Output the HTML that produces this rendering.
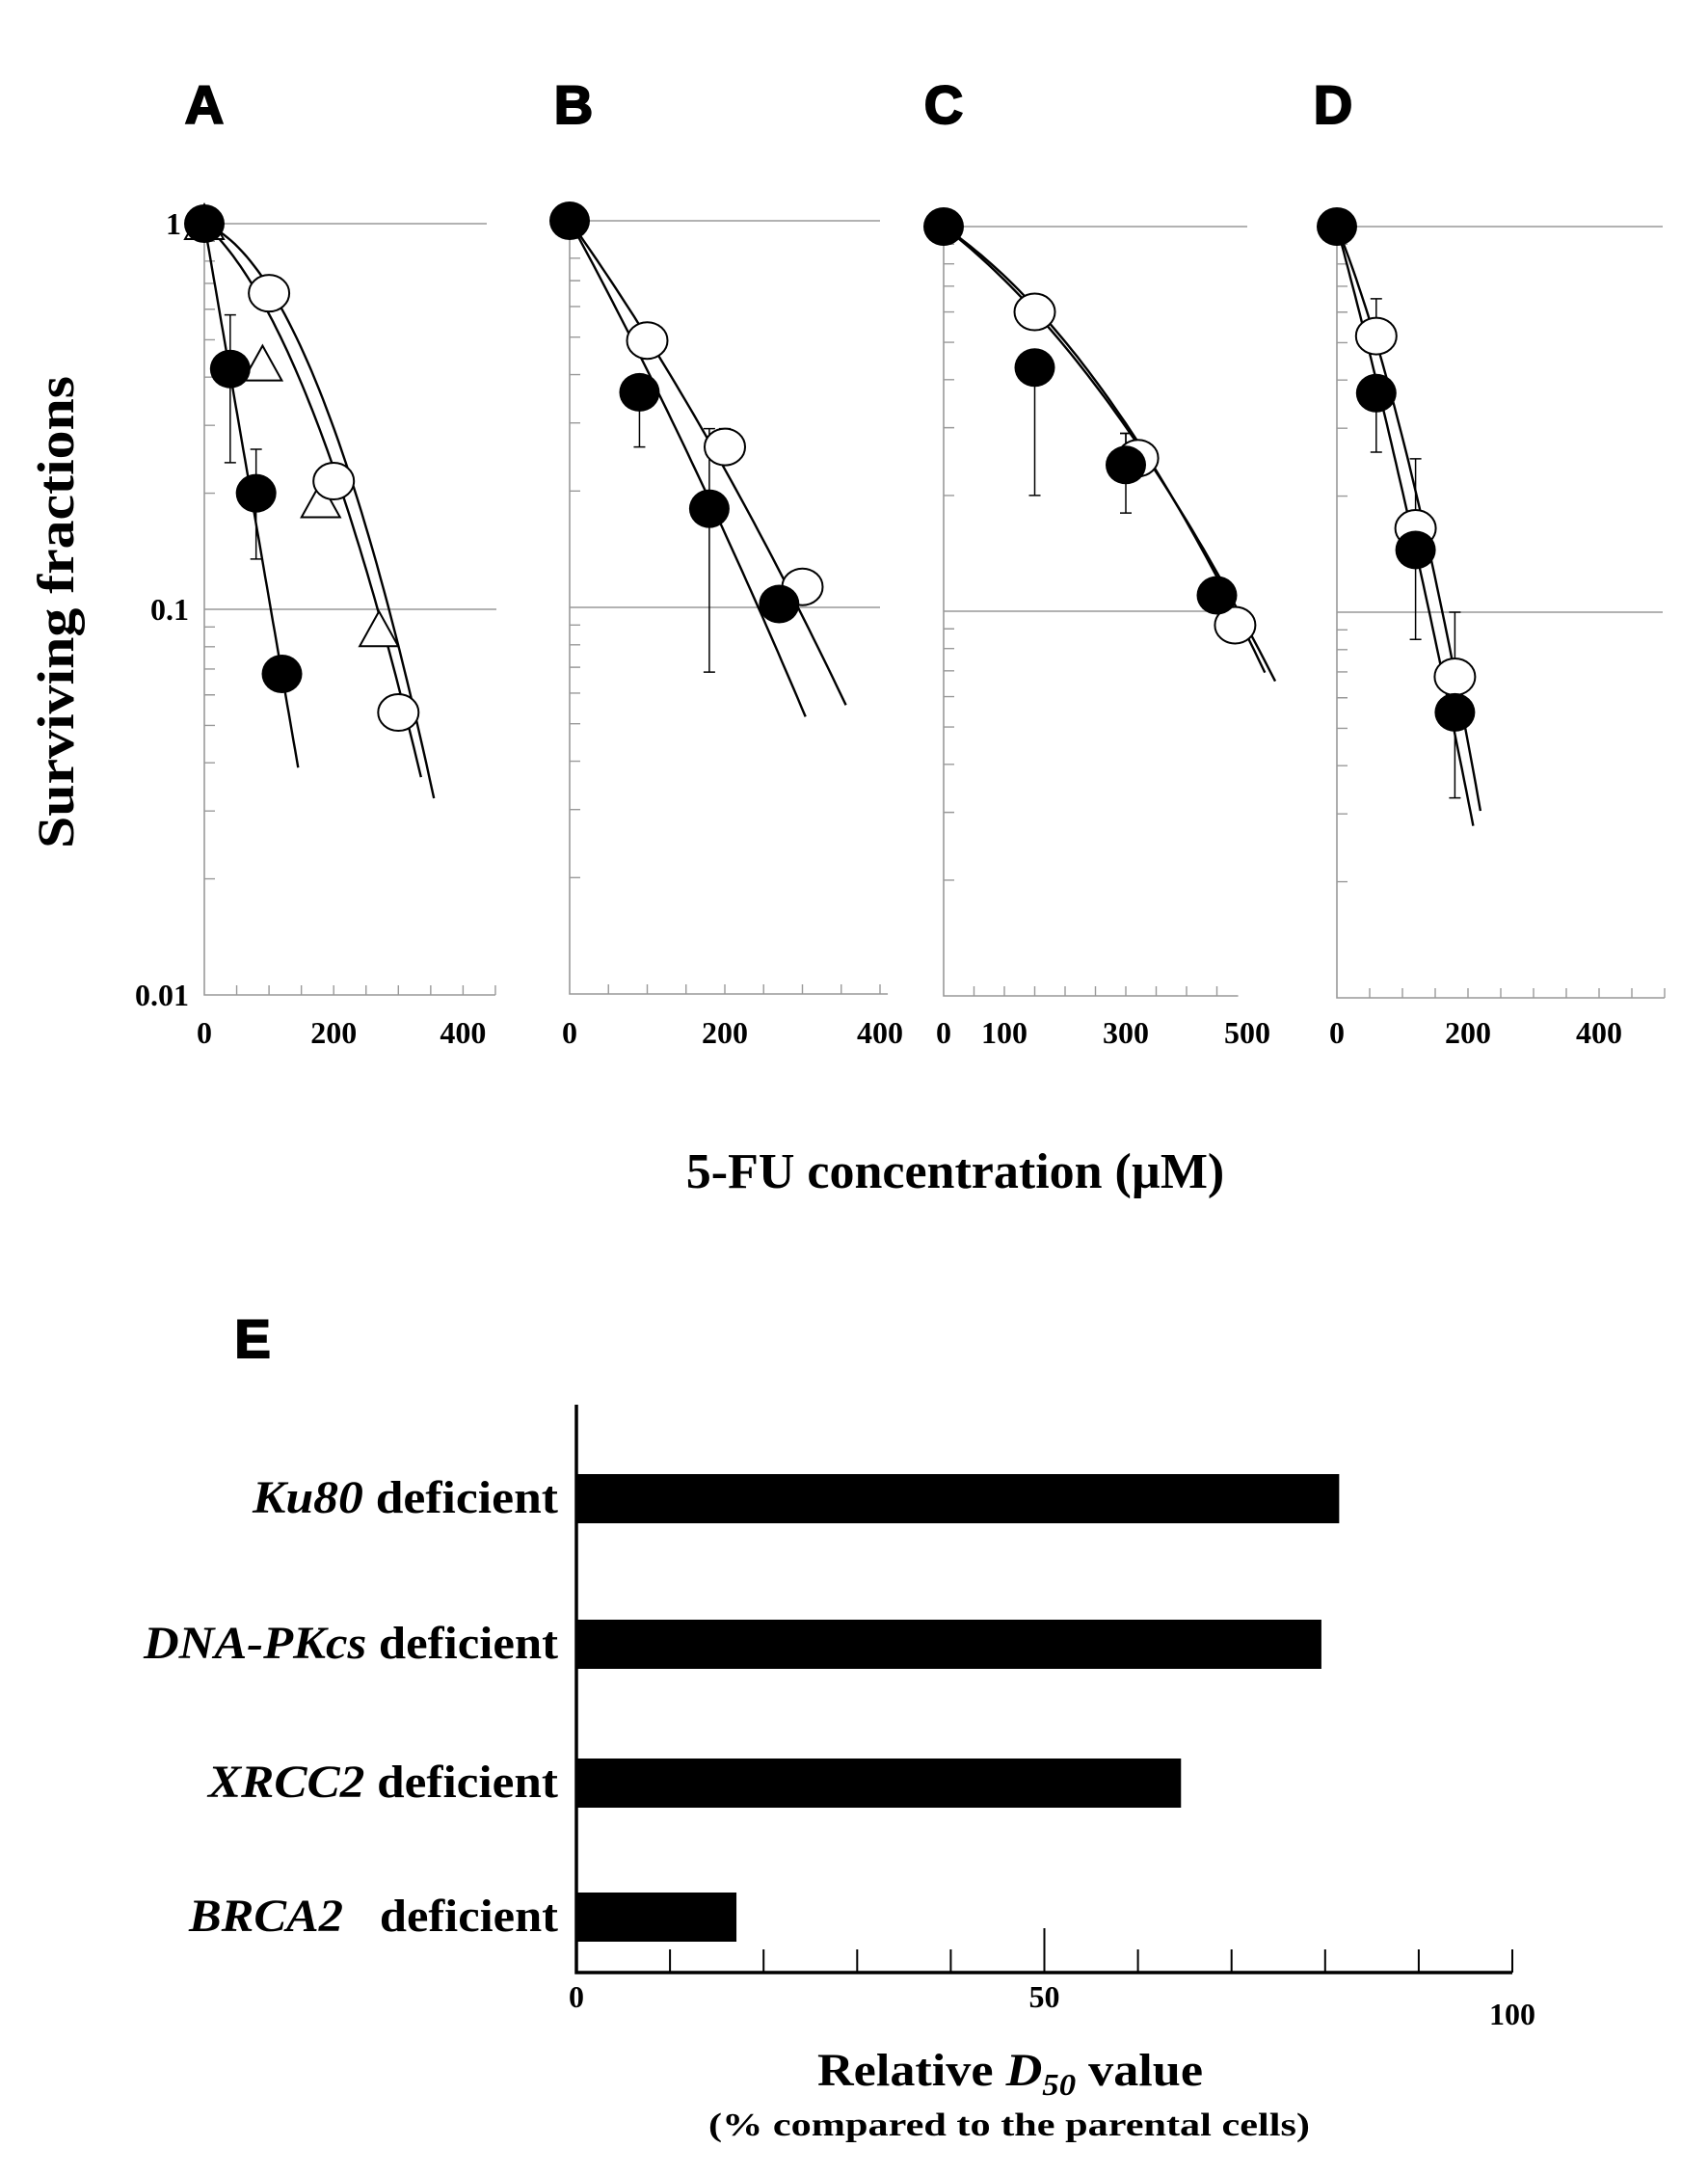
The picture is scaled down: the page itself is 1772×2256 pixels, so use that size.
<!DOCTYPE html>
<html><head><meta charset="utf-8"><style>html,body{margin:0;padding:0;background:#fff}svg{display:block}</style></head>
<body>
<svg id="fig" xmlns="http://www.w3.org/2000/svg" width="1772" height="2256" viewBox="0 0 1772 2256">
<g id="topGroup"></g>
<text transform="translate(76,635) rotate(-90)" text-anchor="middle" font-family="Liberation Serif, serif" font-weight="bold" font-size="54" textLength="490" lengthAdjust="spacingAndGlyphs">Surviving fractions</text>
<text x="991" y="1232" text-anchor="middle" font-family="Liberation Serif, serif" font-weight="bold" font-size="52">5-FU concentration (µM)</text>
<g id="barGroup"></g>
</svg>
<script>
// ---- Panel data (dose µM, surviving fraction) ----
const panelNames = ['A','B','C','D'];
const filledDoseA = [0,40,80,120], filledSurvA = [1,0.42,0.2,0.068];
const openDoseA = [100,200,300], openSurvA = [0.66,0.215,0.054];
const triDoseA = [0,90,180,270], triSurvA = [1,0.43,0.19,0.088];
const filledDoseB = [0,90,180,270], filledSurvB = [1,0.36,0.18,0.102];
const openDoseB = [100,200,300], openSurvB = [0.49,0.26,0.113];
const filledDoseC = [0,150,300,450], filledSurvC = [1,0.43,0.24,0.11];
const openDoseC = [150,320,480], openSurvC = [0.6,0.25,0.092];
const filledDoseD = [0,60,120,180], filledSurvD = [1,0.37,0.145,0.055];
const openDoseD = [60,120,180], openSurvD = [0.52,0.165,0.068];
// error bars: dose, low, high
const errDoseA = [40,80], errLowA = [0.24,0.135], errHighA = [0.58,0.26];
const errDoseB = [90,180,200], errLowB = [0.26,0.068,0.26], errHighB = [0.36,0.29,0.29];
const errDoseC = [150,300,300], errLowC = [0.2,0.18,0.24], errHighC = [0.43,0.29,0.29];
const errDoseD = [60,60,120,120,180,180], errLowD = [0.26,0.52,0.085,0.165,0.033,0.068], errHighD = [0.37,0.65,0.145,0.25,0.055,0.1];
// fitted curves: alpha, beta, max dose
const curveAlphaA = [0.0224,0.0015,0.0035], curveBetaA = [0,2.3e-5,1.9e-5], curveMaxA = [145,355,335];
const curveAlphaB = [0.0085,0.0065], curveBetaB = [4e-6,4.5e-6], curveMaxB = [304,356];
const curveAlphaC = [0.00247,0.0028], curveBetaC = [4.87e-6,4.0e-6], curveMaxC = [529,546];
const curveAlphaD = [0.0145,0.0098], curveBetaD = [1.3e-5,2.8e-5], curveMaxD = [208,219];
const xTicksA = [0,200,400], xTicksB = [0,200,400], xTicksC = [0,100,300,500], xTicksD = [0,200,400];

const layouts = [
 {x0:212,ppu:0.671,y1:232,dec:400,xMax:450,gl:[505,515],lx:212},
 {x0:591,ppu:0.805,y1:229,dec:401,xMax:410,gl:[913,913],lx:595},
 {x0:979,ppu:0.63,y1:235,dec:399,xMax:485,gl:[1294,1285],lx:979},
 {x0:1387,ppu:0.68,y1:235,dec:400,xMax:500,gl:[1725,1725],lx:1383}
];
const panels = [
 {f:[filledDoseA,filledSurvA],o:[openDoseA,openSurvA],t:[triDoseA,triSurvA],e:[errDoseA,errLowA,errHighA],c:[curveAlphaA,curveBetaA,curveMaxA],xt:xTicksA},
 {f:[filledDoseB,filledSurvB],o:[openDoseB,openSurvB],e:[errDoseB,errLowB,errHighB],c:[curveAlphaB,curveBetaB,curveMaxB],xt:xTicksB},
 {f:[filledDoseC,filledSurvC],o:[openDoseC,openSurvC],e:[errDoseC,errLowC,errHighC],c:[curveAlphaC,curveBetaC,curveMaxC],xt:xTicksC},
 {f:[filledDoseD,filledSurvD],o:[openDoseD,openSurvD],e:[errDoseD,errLowD,errHighD],c:[curveAlphaD,curveBetaD,curveMaxD],xt:xTicksD}
];
const NS='http://www.w3.org/2000/svg';
function mk(tag,attrs,parent){const el=document.createElementNS(NS,tag);for(const k in attrs)el.setAttribute(k,attrs[k]);parent.appendChild(el);return el;}
const topGroup=document.getElementById('topGroup');
panels.forEach((p,i)=>{
 const L=layouts[i];
 const g=mk('g',{},topGroup);
 
 
 const X=d=>L.x0+d*L.ppu;
 const Y=s=>L.y1-Math.log10(s)*L.dec;
 const lab=mk('text',{x:L.lx,y:128,'text-anchor':'middle','font-family':'Liberation Sans, sans-serif','font-weight':'bold','font-size':56,stroke:'#000','stroke-width':2},g);
 lab.textContent=panelNames[i];
 
 
 [1,0.1].forEach((v,j)=>{const l=mk('line',{x1:L.x0,x2:L.gl[j],y1:Y(v),y2:Y(v),stroke:'#999','stroke-width':1.6},g);
  
  });
 const ax=mk('path',{d:`M${L.x0},${Y(1)-8}V${Y(0.01)}H${X(L.xMax)}`,fill:'none',stroke:'#999','stroke-width':1.6},g);
 
 
 let td='';
 for(let dec of [0.01,0.1])for(let m=2;m<=9;m++){const y=Y(dec*m);td+=`M${L.x0},${y}h11`;}
 for(let d=50;d<=L.xMax;d+=50){td+=`M${X(d)},${Y(0.01)}v-10`;}
 const tk=mk('path',{d:td,stroke:'#999','stroke-width':1.4,fill:'none'},g);
 
 
 p.xt.forEach(v=>{const t=mk('text',{x:X(v),y:1082,'text-anchor':'middle','font-family':'Liberation Serif, serif','font-weight':'bold','font-size':32},g);t.textContent=v;
  
  });
 if(i===0){[[1,'1',-24],[0.1,'0.1',-16],[0.01,'0.01',-16]].forEach(([v,s,off])=>{const t=mk('text',{x:L.x0+off,y:Y(v)+11,'text-anchor':'end','font-family':'Liberation Serif, serif','font-weight':'bold','font-size':32},g);t.textContent=s;
  
  });}
 const [ca,cb,cm]=p.c;
 ca.forEach((a,k)=>{let d='';for(let s=0;s<=60;s++){const dose=cm[k]*s/60;const sv=Math.exp(-a*dose-cb[k]*dose*dose);d+=(s?'L':'M')+X(dose).toFixed(1)+','+Y(sv).toFixed(1);}
  const c=mk('path',{d,fill:'none',stroke:'#000','stroke-width':2.4},g);
  
  });
 const [ed,el,eh]=p.e;
 ed.forEach((d,k)=>{const x=X(d),y1=Y(el[k]),y2=Y(eh[k]);
  const e=mk('path',{d:`M${x},${y1}V${y2}M${x-6},${y1}h12M${x-6},${y2}h12`,stroke:'#000','stroke-width':1.5,fill:'none'},g);
  
  });
 if(p.t){p.t[0].forEach((d,k)=>{const x=X(d),y=Y(p.t[1][k]);
  const t=mk('path',{d:`M${x-20},${y+16}L${x},${y-20}L${x+20},${y+16}Z`,fill:'#fff',stroke:'#000','stroke-width':2},g);
  
  });}
 p.o[0].forEach((d,k)=>{const c=mk('ellipse',{cx:X(d),cy:Y(p.o[1][k]),rx:21,ry:19,fill:'#fff',stroke:'#000','stroke-width':2},g);
  
  });
 p.f[0].forEach((d,k)=>{const c=mk('ellipse',{cx:X(d),cy:Y(p.f[1][k]),rx:21,ry:20,fill:'#000'},g);
  
  });
});

// ---- Panel E bar chart ----
const barGenes = ['Ku80','DNA-PKcs','XRCC2','BRCA2'];
const barValues = [81.5,79.6,64.6,17.1];
const barTicks = [0,50,100];
const barGroup=document.getElementById('barGroup');
const bx0=598, bppu=9.71, axisY=2046;
const BX=v=>bx0+v*bppu;
const rowCenters=[1554,1705,1849,1988];
const labW=[317,430,363,383];
const eL=mk('text',{x:262,y:1408,'text-anchor':'middle','font-family':'Liberation Sans, sans-serif','font-weight':'bold','font-size':56,stroke:'#000','stroke-width':2},barGroup);
eL.textContent='E';


const bax=mk('path',{d:`M${bx0},1457V${axisY}H${BX(100)}`,fill:'none',stroke:'#000','stroke-width':3.5},barGroup);


let btd='';for(let v=10;v<=100;v+=10){btd+=`M${BX(v)},${axisY}v${v===50?-46:-24}`;}
const btk=mk('path',{d:btd,stroke:'#000','stroke-width':2,fill:'none'},barGroup);


barTicks.forEach((v,k)=>{const t=mk('text',{x:BX(v),y:k===2?2100:2082,'text-anchor':'middle','font-family':'Liberation Serif, serif','font-weight':'bold','font-size':32},barGroup);t.textContent=v;
 
 });
barGenes.forEach((gname,k)=>{
 const r=mk('rect',{x:bx0,y:rowCenters[k]-25,width:BX(barValues[k])-bx0,height:51,fill:'#000'},barGroup);
 
 
 const t=mk('text',{x:579,y:rowCenters[k]+15,'text-anchor':'end','font-family':'Liberation Serif, serif','font-weight':'bold','font-size':48,textLength:labW[k],lengthAdjust:'spacingAndGlyphs'},barGroup);
 
 
 const it=mk('tspan',{'font-style':'italic'},t);it.textContent=gname;
 const rest=mk('tspan',{},t);rest.textContent=(gname==='BRCA2'?'\u00a0\u00a0 ':' ')+'deficient';
});
</script>
<script>
const svgEl=document.getElementById('fig');
const t1=document.createElementNS('http://www.w3.org/2000/svg','text');
t1.setAttribute('x','1048');t1.setAttribute('y','2163');t1.setAttribute('text-anchor','middle');
t1.setAttribute('font-family','Liberation Serif, serif');t1.setAttribute('font-weight','bold');t1.setAttribute('font-size','48');
t1.setAttribute('textLength','400');t1.setAttribute('lengthAdjust','spacingAndGlyphs');


t1.innerHTML='Relative <tspan font-style="italic">D</tspan><tspan font-style="italic" font-size="32" dy="10">50</tspan><tspan dy="-10"> value</tspan>';
svgEl.appendChild(t1);
const t2=document.createElementNS('http://www.w3.org/2000/svg','text');
t2.setAttribute('x','1047');t2.setAttribute('y','2215');t2.setAttribute('text-anchor','middle');
t2.setAttribute('font-family','Liberation Serif, serif');t2.setAttribute('font-weight','bold');t2.setAttribute('font-size','34');
t2.setAttribute('textLength','624');t2.setAttribute('lengthAdjust','spacingAndGlyphs');


t2.textContent='(% compared to the parental cells)';
svgEl.appendChild(t2);
</script>
</body></html>
